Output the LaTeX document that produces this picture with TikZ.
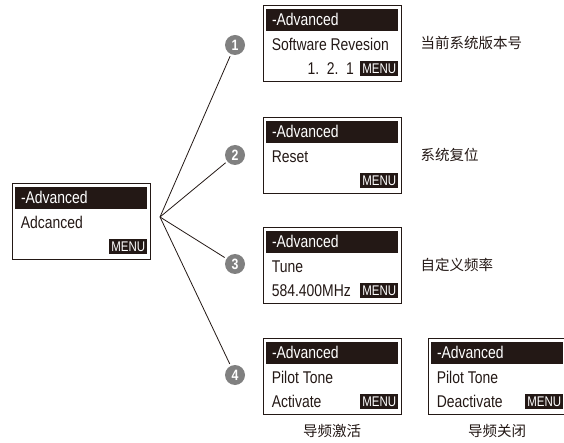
\documentclass[tikz,border=0pt]{standalone}
\usepackage{fontspec}
\setmainfont{Liberation Sans}[FakeStretch=0.82]
\newfontfamily\cjk{Noto Sans CJK SC}
\usetikzlibrary{positioning}
\definecolor{ink}{HTML}{231815}

\begin{document}
\begin{tikzpicture}[x=1pt,y=-1pt,
  screen/.style={draw=ink,line width=0.8pt,minimum width=138pt,minimum height=76pt,inner sep=0pt},
  bar/.style={fill=ink,minimum width=132pt,minimum height=22pt,inner sep=0pt},
  txt/.style={anchor=west,inner sep=0pt,text=ink,font=\fontsize{17}{20}\selectfont},
  hd/.style={txt,text=white},
  menu/.style={anchor=east,fill=ink,text=white,inner xsep=2pt,inner ysep=0pt,minimum height=15pt,font=\fontsize{14}{15}\selectfont},
  num/.style={circle,fill=black!50,text=white,minimum size=20pt,inner sep=0pt,font=\bfseries\fontsize{15}{15}\selectfont},
  fan/.style={draw=ink,line width=0.8pt,shorten >=2pt},
  cn/.style={text=ink,inner sep=0pt,font=\cjk\fontsize{14.5}{16}\selectfont}]

\useasboundingbox (0,0) rectangle (564,443);

% main screen
\node[screen] (s0) at (81,221) {};
\node[bar,below=4pt of s0.north] (b0) {};
\node[hd,right=6pt of b0.west] {-Advanced};
\node[txt] at ([shift={(9,40)}]s0.north west) {Adcanced};
\node[menu] at ([shift={(-3,64)}]s0.north east) {MENU};

% 1
\node[screen] (s1) at (332,43) {};
\node[bar,below=4pt of s1.north] (b1) {};
\node[hd,right=6pt of b1.west] {-Advanced};
\node[txt] at ([shift={(9,40)}]s1.north west) {Software Revesion};
\node[menu] (m1) at ([shift={(-3,64)}]s1.north east) {MENU};
\node[txt,anchor=east,left=6pt of m1] {1.\ \ 2.\ \ 1};
\node[cn,right=19pt of s1] (c1) {当前系统版本号};

% 2
\node[screen] (s2) at (332,155) {};
\node[bar,below=4pt of s2.north] (b2) {};
\node[hd,right=6pt of b2.west] {-Advanced};
\node[txt] at ([shift={(9,40)}]s2.north west) {Reset};
\node[menu] at ([shift={(-3,64)}]s2.north east) {MENU};
\node[cn,right=19pt of s2] (c2) {系统复位};

% 3
\node[screen] (s3) at (332,265) {};
\node[bar,below=4pt of s3.north] (b3) {};
\node[hd,right=6pt of b3.west] {-Advanced};
\node[txt] at ([shift={(9,40)}]s3.north west) {Tune};
\node[txt] at ([shift={(9,64)}]s3.north west) {584.400MHz};
\node[menu] at ([shift={(-3,64)}]s3.north east) {MENU};
\node[cn,right=19pt of s3] (c3) {自定义频率};

% 4
\node[screen] (s4) at (332,376) {};
\node[bar,below=4pt of s4.north] (b4) {};
\node[hd,right=6pt of b4.west] {-Advanced};
\node[txt] at ([shift={(9,40)}]s4.north west) {Pilot Tone};
\node[txt] at ([shift={(9,64)}]s4.north west) {Activate};
\node[menu] at ([shift={(-3,64)}]s4.north east) {MENU};
\node[cn,below=10pt of s4] (c4) {导频激活};

\node[screen] (s5) at (497,376) {};
\node[bar,below=4pt of s5.north] (b5) {};
\node[hd,right=6pt of b5.west] {-Advanced};
\node[txt] at ([shift={(9,40)}]s5.north west) {Pilot Tone};
\node[txt] at ([shift={(9,64)}]s5.north west) {Deactivate};
\node[menu] at ([shift={(-3,64)}]s5.north east) {MENU};
\node[cn,below=10pt of s5] (c5) {导频关闭};

% fan
\coordinate (fan) at (160,217);
\foreach \i/\y in {1/45,2/155,3/264,4/375}{
  \node[num] (n\i) at (235,\y) {\i};
  \draw[fan] (fan) -- (n\i);
}

\end{tikzpicture}
\end{document}
